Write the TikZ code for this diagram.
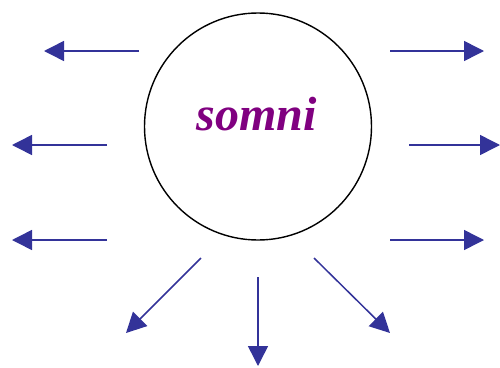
\documentclass[tikz,border=0pt]{standalone}
\usepackage{fontspec}
\setmainfont{Liberation Serif}
\usetikzlibrary{arrows.meta}
\definecolor{rayblue}{HTML}{333399}
\definecolor{wordpurple}{HTML}{800080}
\tikzset{
  ray/.style={draw=rayblue, line width=1.5pt, -{Triangle[length=20pt,width=20pt]}},
  sunbody/.style={circle, draw=black, line width=1.4pt, minimum size=227pt, inner sep=0pt},
  word/.style={text=wordpurple, font=\fontsize{48}{48}\selectfont\bfseries\itshape, inner sep=0pt, anchor=base}
}
\begin{document}
\begin{tikzpicture}[x=1pt,y=-1pt]
\useasboundingbox (0,0) rectangle (500,367);
\node[sunbody] (sun) at (258,126.5) {};
\node[word] (name) at (257,130) {somni};
% ray start/end points
\coordinate (s1) at (139,51);  \coordinate (e1) at (44,51);
\coordinate (s2) at (107,145); \coordinate (e2) at (12,145);
\coordinate (s3) at (107,240); \coordinate (e3) at (12,240);
\coordinate (s4) at (201,258); \coordinate (e4) at (126,333);
\coordinate (s5) at (258,277); \coordinate (e5) at (258,366);
\coordinate (s6) at (314,258); \coordinate (e6) at (390,333);
\coordinate (s7) at (390,240); \coordinate (e7) at (484,240);
\coordinate (s8) at (409,145); \coordinate (e8) at (500,145);
\coordinate (s9) at (390,51);  \coordinate (e9) at (484,51);
\foreach \i in {1,...,9}{\draw[ray] (s\i) -- (e\i);}
\end{tikzpicture}
\end{document}
